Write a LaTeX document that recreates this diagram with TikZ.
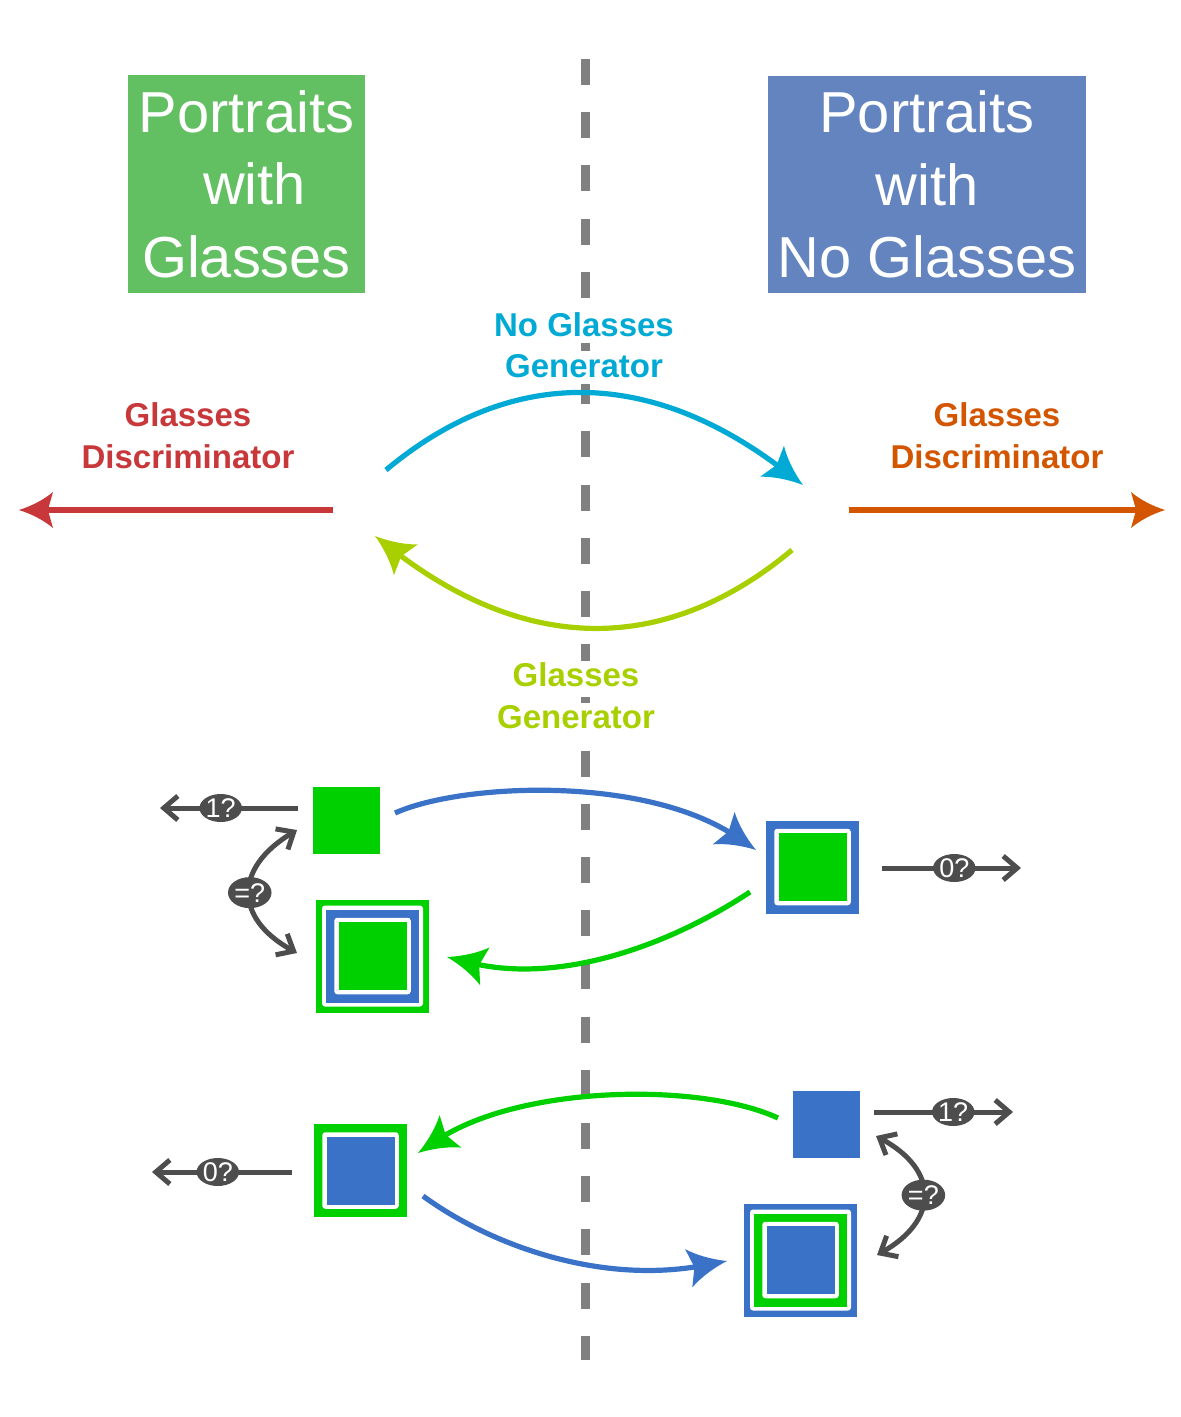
\documentclass[tikz,border=0pt]{standalone}
\usepackage{fontspec}
\setmainfont{Liberation Sans}
\usetikzlibrary{arrows.meta,shapes.geometric}

\pgfdeclarearrow{
  name = Concave,
  parameters = {\the\pgfarrowlength,\the\pgfarrowwidth},
  setup code = {
    \pgfarrowssettipend{0pt}
    \pgfarrowssetbackend{-\pgfarrowlength}
    \pgfarrowssetlineend{-0.6\pgfarrowlength}
    \pgfarrowssavethe\pgfarrowlength
    \pgfarrowssavethe\pgfarrowwidth
  },
  drawing code = {
    \pgfpathmoveto{\pgfpointorigin}
    \pgfpathcurveto{\pgfpoint{-0.4\pgfarrowlength}{0.12\pgfarrowwidth}}{\pgfpoint{-0.75\pgfarrowlength}{0.3\pgfarrowwidth}}{\pgfpoint{-\pgfarrowlength}{0.5\pgfarrowwidth}}
    \pgfpathlineto{\pgfpoint{-0.85\pgfarrowlength}{0pt}}
    \pgfpathlineto{\pgfpoint{-\pgfarrowlength}{-0.5\pgfarrowwidth}}
    \pgfpathcurveto{\pgfpoint{-0.75\pgfarrowlength}{-0.3\pgfarrowwidth}}{\pgfpoint{-0.4\pgfarrowlength}{-0.12\pgfarrowwidth}}{\pgfpointorigin}
    \pgfpathclose
    \pgfusepathqfill
  },
  defaults = {length=18pt, width=18pt}
}

\definecolor{tgreen}{HTML}{62BF62}
\definecolor{tblue}{HTML}{6384BF}
\definecolor{ccyan}{HTML}{00AAD4}
\definecolor{clime}{HTML}{A8D000}
\definecolor{cred}{HTML}{C8373A}
\definecolor{corange}{HTML}{D45500}
\definecolor{grn}{HTML}{00D000}
\definecolor{blu}{HTML}{3A72C8}
\definecolor{dgray}{HTML}{4D4D4D}
\definecolor{lgray}{HTML}{808080}

\tikzset{
  titlebox/.style={rectangle, draw=none, text=white, align=center, inner sep=0pt,
    font=\fontsize{28.9}{36.25}\selectfont},
  lab/.style={fill=white, inner sep=0pt, anchor=base, text height=12.4pt, text depth=3.4pt,
    font=\bfseries\fontsize{16.5}{20.75}\selectfont},
  straightarrow/.style={line width=3pt, -{Concave[length=17pt,width=18pt]}},
  curvearrow/.style={line width=2.6pt, -{Concave[length=19.5pt,width=19.5pt]}},
  garrow/.style={draw=dgray, line width=2.5pt, -{Straight Barb[length=7pt,width=12pt]}},
  gdarrow/.style={draw=dgray, line width=2.5pt, {Straight Barb[length=7pt,width=12pt]}-{Straight Barb[length=7pt,width=12pt]}},
  qlab/.style={ellipse, fill=dgray, text=white, inner sep=0pt, minimum width=20.5pt,
    minimum height=14pt, font=\fontsize{13.5}{13.5}\selectfont},
  sq/.style={rectangle, draw=none, inner sep=0pt},
  wsq/.style={sq, fill=white, rounded corners=1.5pt},
}

\begin{document}
\begin{tikzpicture}[x=0.5pt, y=-0.5pt]
\fill[white] (0,0) rectangle (1181,1417);
\useasboundingbox (0,0) rectangle (1181,1417);

% divider
\coordinate (dT) at (585.5,59);
\coordinate (dB) at (585.5,1360);
\draw[lgray, line width=4.2pt, dash pattern=on 13pt off 13.6pt] (dT) -- (dB);

% title boxes
\node[titlebox, fill=tgreen, minimum width=118.5pt, minimum height=109pt] (gbox) at (246.5,184)
  {Portraits\\\hspace*{0.28em}with\\Glasses};
\node[titlebox, fill=tblue, minimum width=159pt, minimum height=108.5pt] (bbox) at (927,184.5)
  {Portraits\\with\\No Glasses};

% upper arrows
\coordinate (rS) at (333,510); \coordinate (rE) at (19,510);
\coordinate (oS) at (849,510); \coordinate (oE) at (1165,510);
\coordinate (cS) at (386,470); \coordinate (cE) at (803,485);
\coordinate (lS) at (792,550); \coordinate (lE) at (375,536);
\draw[straightarrow, cred] (rS) -- (rE);
\draw[straightarrow, corange] (oS) -- (oE);
\draw[curvearrow, ccyan] (cS) .. controls (513,364) and (652,369) .. (cE);
\draw[curvearrow, clime] (lS) .. controls (664,657) and (525,652) .. (lE);

% labels
\node[lab, text=ccyan] (ng1) at (584,336) {No Glasses};
\node[lab, text=ccyan] (ng2) at (584,377) {Generator};
\node[lab, text=cred] (gd1) at (188,426) {Glasses};
\node[lab, text=cred] (gd2) at (188,468) {Discriminator};
\node[lab, text=corange] (gr1) at (997,426) {Glasses};
\node[lab, text=corange] (gr2) at (997,468) {Discriminator};
\node[lab, text=clime] (gg1) at (576,686) {Glasses};
\node[lab, text=clime] (gg2) at (576,728) {Generator};

% squares, upper cycle
\node[sq, fill=grn, minimum size=33.5pt] (A) at (346.5,820) {};
\node[sq, fill=blu, minimum size=46.5pt] (B) at (812.5,867) {};
\node[wsq, minimum size=38.25pt] (Bw) at (B.center) {};
\node[sq, fill=grn, minimum size=34pt] (Bi) at (B.center) {};
\node[sq, fill=grn, minimum size=56.5pt] (C) at (372.5,956) {};
\node[wsq, minimum size=50.5pt] (Cw1) at (C.center) {};
\node[sq, fill=blu, minimum size=46.5pt] (Cb) at (C.center) {};
\node[wsq, minimum size=38.25pt] (Cw2) at (C.center) {};
\node[sq, fill=grn, minimum size=34pt] (Ci) at (C.center) {};

% squares, lower cycle
\node[sq, fill=blu, minimum size=33.5pt] (D) at (826.5,1124.5) {};
\node[sq, fill=grn, minimum size=46.5pt] (E) at (360.5,1170.5) {};
\node[wsq, minimum size=38.25pt] (Ew) at (E.center) {};
\node[sq, fill=blu, minimum size=34pt] (Ei) at (E.center) {};
\node[sq, fill=blu, minimum size=56.5pt] (F) at (800.5,1260) {};
\node[wsq, minimum size=50.5pt] (Fw1) at (F.center) {};
\node[sq, fill=grn, minimum size=46.5pt] (Fg) at (F.center) {};
\node[wsq, minimum size=38.25pt] (Fw2) at (F.center) {};
\node[sq, fill=blu, minimum size=34pt] (Fi) at (F.center) {};

% colored curves, lower part
\coordinate (b1S) at (395,813); \coordinate (b1E) at (756,850);
\coordinate (g1S) at (750,892); \coordinate (g1E) at (447,957);
\coordinate (g2S) at (778,1118); \coordinate (g2E) at (418,1153);
\coordinate (b2S) at (423,1196); \coordinate (b2E) at (727,1261);
\draw[curvearrow, blu] (b1S) .. controls (462,783) and (645,775) .. (b1E);
\draw[curvearrow, grn] (g1S) .. controls (670,945) and (560,985) .. (g1E);
\draw[curvearrow, grn] (g2S) .. controls (700,1082) and (520,1085) .. (g2E);
\draw[curvearrow, blu] (b2S) .. controls (490,1245) and (600,1285) .. (b2E);

% gray discriminator / comparison arrows
\coordinate (q1S) at (298,808); \coordinate (q1E) at (160,808);
\coordinate (q2S) at (882,868); \coordinate (q2E) at (1021,868);
\coordinate (q3S) at (874,1112); \coordinate (q3E) at (1013,1112);
\coordinate (q4S) at (292,1172); \coordinate (q4E) at (152,1172);
\draw[garrow] (q1S) -- node[qlab, pos=0.56] (l1) {1?} (q1E);
\draw[garrow] (q2S) -- node[qlab, pos=0.52] (l2) {0?} (q2E);
\draw[garrow] (q3S) -- node[qlab, pos=0.57] (l3) {1?} (q3E);
\draw[garrow] (q4S) -- node[qlab, pos=0.53] (l4) {0?} (q4E);

\coordinate (e1S) at (297,830); \coordinate (e1E) at (297,953);
\coordinate (e2S) at (876,1136); \coordinate (e2E) at (877,1255);
\draw[gdarrow] (e1S) .. controls (234,868) and (234,918) .. node[qlab, minimum width=21.5pt, minimum height=15.5pt] (l5) {=?} (e1E);
\draw[gdarrow] (e2S) .. controls (939,1170) and (939,1220) .. node[qlab, minimum width=21.5pt, minimum height=15.5pt] (l6) {=?} (e2E);
\end{tikzpicture}
\end{document}
